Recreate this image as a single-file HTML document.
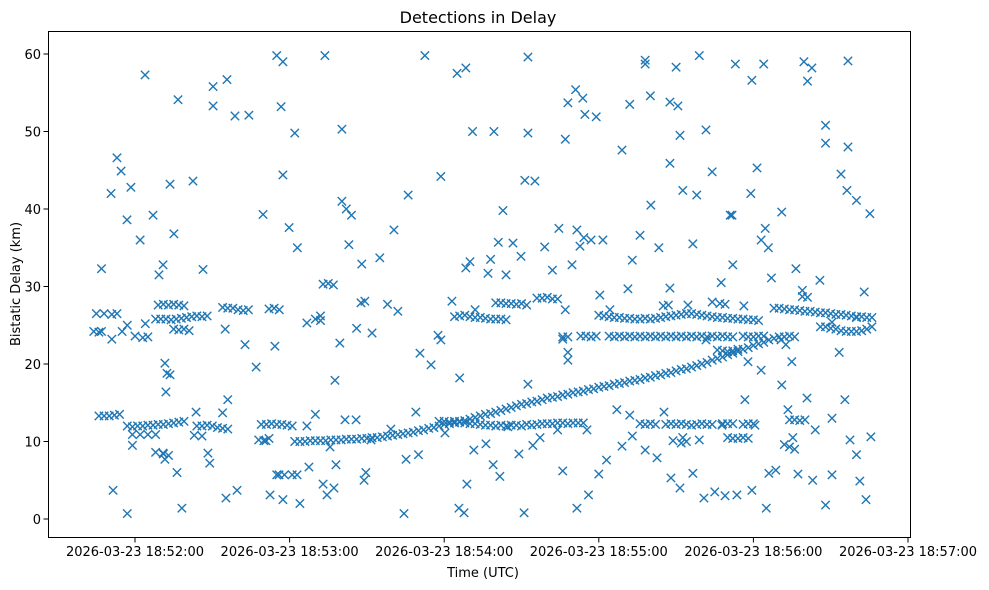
<!DOCTYPE html>
<html><head><meta charset="utf-8"><title>Detections in Delay</title>
<style>
body{margin:0;background:#fff;}
svg{display:block;font-family:"DejaVu Sans","Liberation Sans",sans-serif;}
</style></head>
<body>
<svg id="chart" width="989" height="590" viewBox="0 0 989 590">
<rect x="0" y="0" width="989" height="590" fill="#fff"/>
<text x="478" y="23" font-size="16" text-anchor="middle" fill="#000">Detections in Delay</text>
<g id="marks"></g>
<rect x="48.5" y="31.5" width="862" height="506" fill="none" stroke="#000" stroke-width="1"/>
<g id="xaxis"></g>
<g id="yaxis"></g>
<text x="483" y="577" font-size="13" text-anchor="middle">Time (UTC)</text>
<text x="0" y="0" font-size="13" text-anchor="middle" transform="translate(20,284) rotate(-90)">Bistatic Delay (km)</text>
</svg>
<script>
// seconds relative to 18:52:00, value in km
const xTickSeconds=[0,60,120,180,240,300];
const xTickLabels=["2026-03-23 18:52:00","2026-03-23 18:53:00","2026-03-23 18:54:00","2026-03-23 18:55:00","2026-03-23 18:56:00","2026-03-23 18:57:00"];
const yTicks=[0,10,20,30,40,50,60];

const riseTrack=[[62,10.0],[64,10.0],[66,10.0],[68,10.1],[70,10.1],[72,10.1],[74,10.1],[76,10.2],[78,10.2],[80,10.2],[82,10.3],[84,10.3],[86,10.3],[88,10.4],[90,10.4],[92,10.5],[94,10.5],[96,10.6],[98,10.7],[100,10.8],[102,10.9],[104,11.0],[106,11.1],[108,11.2],[110,11.4],[112,11.5],[114,11.7],[116,11.8],[118,12.0],[120,12.2],[122,12.3],[124,12.4],[126,12.6],[128,12.7],[130,12.9],[132,13.1],[134,13.3],[136,13.5],[138,13.6],[140,13.8],[142,14.0],[144,14.2],[146,14.4],[148,14.6],[150,14.8],[152,14.9],[154,15.1],[156,15.2],[158,15.4],[160,15.6],[162,15.7],[164,15.8],[166,16.0],[168,16.1],[170,16.3],[172,16.4],[174,16.5],[176,16.7],[178,16.8],[180,17.0],[182,17.1],[184,17.2],[186,17.4],[188,17.5],[190,17.6],[192,17.8],[194,17.9],[196,18.0],[198,18.2],[200,18.3],[202,18.5],[204,18.6],[206,18.8],[208,18.9],[210,19.1],[212,19.3],[214,19.4],[216,19.6],[218,19.8],[220,20.0],[222,20.2],[224,20.5],[226,20.7],[228,20.9],[230,21.2],[232,21.4],[234,21.6],[236,21.9],[238,22.1],[240,22.4],[242,22.6],[244,22.8],[246,23.1],[248,23.3],[250,23.5]];

const earlyLowTrack=[[-3,12.0],[-1,11.9],[1,12.0],[3,12.0],[5,12.1],[7,12.1],[9,12.2],[11,12.2],[13,12.3],[15,12.4],[17,12.5],[19,12.6],[-1,10.9],[2,10.9],[5,10.9],[8,10.9],[11,8.4],[13,8.2],[-14,13.3],[-12,13.3],[-10,13.3],[-8,13.4],[-6,13.5],[24,12.0],[26,12.0],[28,12.1],[30,12.0],[32,11.8],[34,11.7],[36,11.6],[23,10.8],[26,10.7],[49,12.2],[51,12.2],[53,12.3],[55,12.2],[57,12.2],[59,12.1],[61,12.0],[48,10.2],[50,10.1],[52,10.4],[55,5.7],[58,5.7],[61,5.7]];

const earlyUpperTrack=[[-15,26.5],[-12,26.5],[-9,26.4],[-7,26.5],[-16,24.2],[-14,24.1],[-13,24.2],[-5,24.2],[-9,23.2],[-3,25.0],[0,23.6],[3,23.4],[5,23.5],[4,25.2],[8,25.8],[10,25.8],[12,25.8],[14,25.7],[16,25.8],[18,25.9],[20,26.0],[22,26.1],[24,26.2],[26,26.1],[28,26.2],[9,27.6],[11,27.7],[13,27.6],[15,27.7],[17,27.6],[19,27.5],[15,24.5],[17,24.4],[19,24.5],[21,24.3],[34,27.3],[36,27.2],[38,27.2],[40,27.0],[42,26.9],[44,27.0],[35,24.5],[52,27.1],[54,27.2],[56,27.0],[70,25.8],[72,25.6],[73,30.3],[75,30.4],[77,30.2]];

const midLowTrack=[[118,12.6],[120,12.6],[122,12.5],[124,12.6],[126,12.5],[128,12.4],[130,12.3],[132,12.3],[134,12.2],[136,12.1],[138,12.1],[140,12.0],[142,12.1],[144,12.0],[146,12.1],[148,12.1],[150,12.0],[152,12.2],[154,12.1],[156,12.2],[158,12.3],[160,12.3],[162,12.3],[164,12.4],[166,12.4],[168,12.3],[170,12.4],[172,12.4],[174,12.4]];

const midUpperTrack=[[124,26.1],[126,26.2],[128,26.3],[130,26.1],[132,26.0],[134,26.0],[136,25.9],[138,25.8],[140,25.8],[142,25.8],[144,25.7],[140,27.9],[142,27.9],[144,27.8],[146,27.8],[148,27.7],[150,27.8],[152,27.6],[156,28.5],[158,28.5],[160,28.6],[162,28.4],[164,28.4],[166,23.5],[168,23.5],[166,23.2],[168,21.5],[168,20.5]];

const lateFlatTrack=[[173,23.6],[175,23.6],[177,23.5],[179,23.6],[184,23.6],[186,23.5],[188,23.6],[190,23.5],[192,23.6],[194,23.5],[196,23.6],[198,23.5],[200,23.6],[202,23.5],[204,23.6],[206,23.5],[208,23.6],[210,23.5],[212,23.6],[214,23.5],[216,23.6],[218,23.5],[220,23.6],[222,23.5],[224,23.6],[226,23.5],[228,23.6],[230,23.5],[232,23.5],[236,23.6],[238,23.5],[240,23.5],[242,23.6],[244,23.6],[252,23.5],[254,23.6],[256,23.5],[226,21.8],[228,21.7],[230,21.6],[232,21.7],[234,21.9]];

const lateUpperTrack=[[180,26.3],[182,26.2],[184,26.1],[186,26.0],[188,26.0],[190,25.9],[192,25.9],[194,25.8],[196,25.8],[198,25.9],[200,25.8],[202,25.9],[204,26.0],[206,26.1],[208,26.2],[210,26.3],[212,26.4],[214,26.5],[216,26.5],[218,26.4],[220,26.3],[222,26.2],[224,26.1],[226,26.0],[228,26.0],[230,25.9],[232,25.9],[234,25.8],[236,25.8],[238,25.7],[240,25.7],[242,25.6],[227,27.8],[229,27.7],[205,27.5],[207,27.6],[248,27.2],[250,27.2],[252,27.1],[254,27.0],[256,27.0],[258,26.9],[260,26.8],[262,26.8],[264,26.7],[266,26.6],[268,26.6],[270,26.5],[272,26.4],[274,26.4],[276,26.3],[278,26.2],[280,26.1],[282,26.1],[284,26.0],[286,26.0],[259,28.7],[261,28.6],[266,24.8],[268,24.8],[270,24.6],[272,24.5],[274,24.3],[276,24.2],[278,24.2],[280,24.2],[282,24.3],[284,24.5],[286,24.8]];

const lateLowTrack=[[196,12.3],[198,12.2],[200,12.3],[202,12.2],[206,12.2],[208,12.3],[210,12.2],[212,12.3],[214,12.2],[216,12.1],[218,12.2],[220,12.3],[222,12.2],[224,12.2],[228,12.3],[230,12.3],[232,12.3],[236,12.2],[238,12.3],[240,12.3],[230,10.5],[232,10.4],[234,10.4],[236,10.5],[238,10.4],[212,9.8],[214,10.0],[254,12.8],[256,12.8],[258,12.7],[260,12.8],[252,9.6],[254,9.3],[256,9.0]];

const scatterNoise=[[-13,32.3],[-7,46.6],[-5.4,44.9],[-9.3,42],[-1.6,42.8],[-3.1,38.6],[2,36],[3.9,57.3],[7,39.2],[9.3,31.5],[10.9,32.8],[13.6,43.2],[15.1,36.8],[16.7,54.1],[22.5,43.6],[26.4,32.2],[30.3,53.3],[30.3,55.8],[35.7,56.7],[38.8,52],[44.2,52.1],[49.7,39.3],[55,59.8],[57.4,59],[56.7,53.2],[57.4,44.4],[59.8,37.6],[62,49.8],[63,35],[73.7,59.8],[80.3,50.3],[80.3,41],[82,40],[84,39.2],[83,35.4],[88,32.9],[95,33.7],[100.5,37.3],[106,41.8],[112.5,59.8],[118.7,44.2],[125,57.5],[128.4,58.2],[131,50],[139.3,50],[142.8,39.8],[152.5,59.6],[152.5,49.8],[151.3,43.7],[155.2,43.6],[167,49],[168,53.7],[171,55.4],[173.8,54.3],[174.6,52.2],[179,51.9],[181.6,36],[189,47.6],[192,53.5],[198,58.7],[198,59.2],[200,54.6],[207.6,53.8],[210,58.3],[210.7,53.3],[211.5,49.5],[207.6,45.9],[212.6,42.4],[219,59.8],[221.6,50.2],[218,41.8],[224,44.8],[233,58.7],[239.4,56.6],[244,58.7],[241.4,45.3],[239,42],[231.7,39.2],[243,36],[251,39.6],[261,56.5],[262.7,58.2],[268,50.8],[268,48.5],[259.6,59],[276.7,59.1],[276.7,48],[274,44.5],[276.3,42.4],[280,41.1],[285.2,39.4],
[-8.5,3.7],[-3,0.7],[18.2,1.4],[16.3,6],[11.6,7.7],[29,7.2],[35.3,2.7],[39.6,3.7],[36,15.4],[42.7,22.5],[47,19.6],[52.4,3.1],[55.9,5.7],[57.4,2.5],[62.9,5.7],[64,2],[67.5,6.7],[73,4.5],[74.5,3.1],[77.2,4],[78,7],[88.9,5],[89.6,6],[104.4,0.7],[110,8.3],[125.7,1.4],[127.7,0.8],[128.8,4.5],[139,7],[141.6,5.5],[149,8.4],[151,0.8],[154.4,9.5],[166,6.2],[171.5,1.4],[176,3.1],[180,5.8],[183,7.6],[189,9.4],[193,10.7],[198,8.9],[202.6,7.9],[208,5.3],[211.5,4],[216.5,5.9],[220.8,2.7],[225,3.5],[229,3],[233.6,3.1],[239.4,3.7],[245,1.4],[246,5.9],[248.7,6.3],[257.3,5.8],[263,5],[268,1.8],[270.5,5.7],[281.3,4.9],[283.7,2.5],[280,8.3],
[11.6,20.1],[12.4,18.8],[13.6,18.6],[12,16.4],[54.3,22.3],[66.7,25.3],[72,26.2],[77.6,17.9],[79.5,22.7],[86,24.6],[87.7,27.9],[89.2,28.1],[92,24],[98,27.7],[102,26.8],[110.6,21.4],[114.9,19.9],[117.6,23.7],[118.7,23.1],[123,28.1],[126,18.2],[128.4,32.4],[130,33.2],[132,27],[137,31.7],[138,33.5],[141,35.7],[144,31.5],[146.7,35.6],[149.8,33.9],[152.5,17.4],[159,35.1],[162,32.1],[164.5,37.5],[167,27],[169.6,32.8],[171.5,37.3],[172.7,35.2],[174.2,36.3],[177,36],[180.4,28.9],[184.3,27],[191.3,29.7],[193,33.4],[196,36.6],[200.2,40.5],[203.3,35],[207.6,29.8],[214.6,27.6],[216.5,35.5],[221.6,23.1],[224,28],[227.5,30.5],[231,39.2],[232,32.8],[236.3,27.5],[237.9,20.3],[243,19.2],[244.6,37.5],[245.8,35],[247,31.1],[250.7,23.1],[252.6,22.5],[254.9,20.3],[256.5,32.3],[259,29.5],[265.8,30.8],[270.5,25.4],[273.3,21.5],[280,26],[283,29.3],
[-1,9.5],[8,8.6],[10.9,8.5],[23.7,13.8],[28.3,8.5],[34,13.7],[50.8,10.1],[66.7,12],[70,13.5],[75.7,9.3],[81.5,12.8],[85.8,12.8],[91.6,10.2],[99.3,11.6],[105.2,7.7],[109,13.8],[120.3,11.1],[131.5,8.9],[136.2,9.7],[144.7,11.9],[157.2,10.5],[164,11.5],[175.4,11.5],[187,14.1],[192,13.4],[205.3,13.8],[208.8,10.1],[212.6,10.5],[219,10.2],[227.8,12.1],[236.7,15.4],[240.6,12.1],[251,17.3],[253.4,14.1],[255.3,10.5],[260.8,15.6],[264,11.5],[270.5,13],[275.5,15.4],[277.5,10.2],[285.6,10.6]];

const X0=135, PX_PER_S=(908-135)/300;
const Y0=519, PX_PER_KM=(519-54)/60;
function xScale(s){return X0+s*PX_PER_S;}
function yScale(v){return Y0-v*PX_PER_KM;}
const NS="http://www.w3.org/2000/svg";
const marks=document.getElementById('marks');
const allSeries=[riseTrack,earlyLowTrack,earlyUpperTrack,midLowTrack,midUpperTrack,lateFlatTrack,lateUpperTrack,lateLowTrack,scatterNoise];
const h=4.2;
allSeries.forEach(function(series){
  series.forEach(function(p){
    const cx=xScale(p[0]), cy=yScale(p[1]);
    const path=document.createElementNS(NS,'path');
    path.setAttribute('d','M'+(cx-h)+' '+(cy-h)+'L'+(cx+h)+' '+(cy+h)+'M'+(cx-h)+' '+(cy+h)+'L'+(cx+h)+' '+(cy-h));
    path.setAttribute('stroke','#1f77b4');
    path.setAttribute('stroke-width','1.4');
    path.setAttribute('fill','none');
    
    
    marks.appendChild(path);
  });
});
const xaxis=document.getElementById('xaxis');
xTickSeconds.forEach(function(s,i){
  const x=xScale(s);
  const t=document.createElementNS(NS,'line');
  t.setAttribute('x1',x);t.setAttribute('x2',x);t.setAttribute('y1',537.5);t.setAttribute('y2',542.5);
  t.setAttribute('stroke','#000');
  
  
  xaxis.appendChild(t);
  const l=document.createElementNS(NS,'text');
  l.setAttribute('x',x);l.setAttribute('y',556);l.setAttribute('font-size','13');l.setAttribute('text-anchor','middle');
  l.textContent=xTickLabels[i];
  
  
  xaxis.appendChild(l);
});
const yaxis=document.getElementById('yaxis');
yTicks.forEach(function(v){
  const y=yScale(v);
  const t=document.createElementNS(NS,'line');
  t.setAttribute('x1',43.5);t.setAttribute('x2',48.5);t.setAttribute('y1',y);t.setAttribute('y2',y);
  t.setAttribute('stroke','#000');
  
  
  yaxis.appendChild(t);
  const l=document.createElementNS(NS,'text');
  l.setAttribute('x',41);l.setAttribute('y',y+5);l.setAttribute('font-size','13');l.setAttribute('text-anchor','end');
  l.textContent=String(v);
  
  
  yaxis.appendChild(l);
});
</script>
</body></html>
